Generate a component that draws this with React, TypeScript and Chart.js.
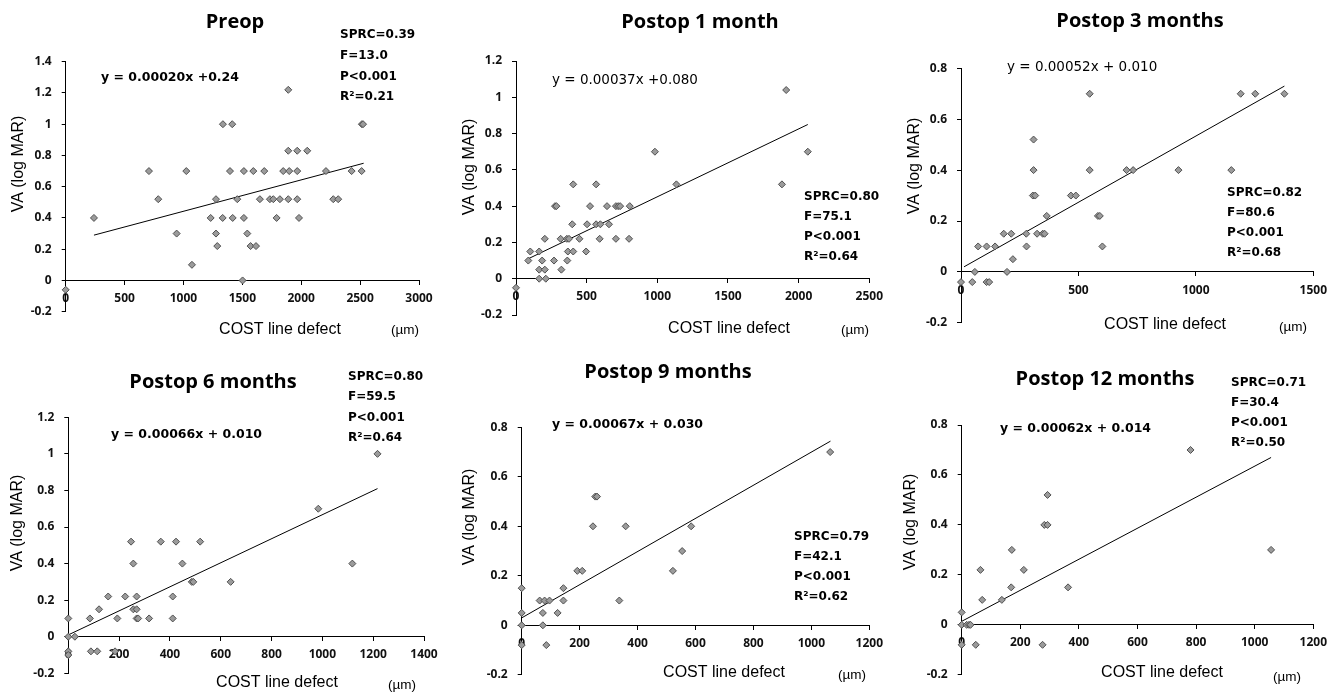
import React, { useEffect, useRef } from 'react';
import { Chart, registerables } from 'chart.js';
Chart.register(...registerables);

// ---------- data ----------
const preopX = [0, 240, 707, 786, 942, 1024, 1072, 1231, 1276, 1276, 1287, 1333, 1335, 1414, 1395, 1418, 1457, 1502, 1513, 1513, 1542, 1570, 1593, 1616, 1649, 1686, 1734, 1763, 1791, 1819, 1847, 1890, 1890, 1890, 1898, 1966, 1966, 1966, 1981, 2051, 2210, 2272, 2314, 2428, 2513, 2515, 2525];
const preopY = [-0.06, 0.4, 0.7, 0.52, 0.3, 0.7, 0.1, 0.4, 0.52, 0.3, 0.22, 0.4, 1.0, 1.0, 0.7, 0.4, 0.52, 0.0, 0.7, 0.4, 0.3, 0.22, 0.7, 0.22, 0.52, 0.7, 0.52, 0.52, 0.4, 0.52, 0.7, 1.22, 0.83, 0.52, 0.7, 0.83, 0.7, 0.52, 0.4, 0.83, 0.7, 0.52, 0.52, 0.7, 0.7, 1.0, 1.0];
const preopTrendX = [240, 2530];
const preopTrendY = [0.29, 0.75];

const m1X = [0, 87, 101, 164, 164, 185, 164, 204, 211, 204, 269, 276, 286, 321, 316, 363, 367, 360, 375, 405, 398, 405, 449, 496, 503, 524, 567, 567, 597, 592, 644, 658, 707, 707, 723, 737, 805, 800, 983, 1135, 1912, 1882, 2065];
const m1Y = [-0.05, 0.1, 0.15, 0.15, 0.05, 0.1, 0.0, 0.05, 0.0, 0.22, 0.1, 0.4, 0.4, 0.05, 0.22, 0.1, 0.15, 0.22, 0.22, 0.15, 0.3, 0.52, 0.22, 0.15, 0.3, 0.4, 0.52, 0.3, 0.3, 0.22, 0.4, 0.3, 0.22, 0.4, 0.4, 0.4, 0.4, 0.22, 0.7, 0.52, 1.04, 0.52, 0.7];
const m1TrendX = [87, 2065];
const m1TrendY = [0.11, 0.85];

const m3X = [0, 48, 109, 120, 59, 73, 109, 145, 182, 214, 196, 221, 278, 279, 309, 309, 306, 316, 324, 348, 356, 365, 468, 489, 548, 548, 583, 591, 602, 705, 733, 926, 1151, 1191, 1253, 1377];
const m3Y = [-0.04, -0.04, -0.04, -0.04, 0.0, 0.1, 0.1, 0.1, 0.15, 0.15, 0.0, 0.05, 0.15, 0.1, 0.52, 0.4, 0.3, 0.3, 0.15, 0.15, 0.15, 0.22, 0.3, 0.3, 0.7, 0.4, 0.22, 0.22, 0.1, 0.4, 0.4, 0.4, 0.4, 0.7, 0.7, 0.7];
const m3TrendX = [13, 1377];
const m3TrendY = [0.02, 0.73];

const m6X = [0, 0, 0, 0, 26, 85, 89, 114, 121, 157, 184, 193, 224, 247, 256, 269, 256, 269, 269, 275, 318, 364, 411, 411, 424, 449, 486, 492, 519, 639, 984, 1118, 1217];
const m6Y = [0.1, 0.0, -0.08, -0.1, 0.0, 0.1, -0.08, -0.08, 0.15, 0.22, -0.08, 0.1, 0.22, 0.52, 0.4, 0.22, 0.15, 0.15, 0.1, 0.1, 0.1, 0.52, 0.22, 0.1, 0.52, 0.4, 0.3, 0.3, 0.52, 0.3, 0.7, 0.4, 1.0];
const m6TrendX = [0, 1217];
const m6TrendY = [0.01, 0.81];

const m9X = [0, 0, 0, 0, 62, 79, 96, 73, 73, 85, 124, 144, 144, 192, 209, 246, 254, 260, 337, 359, 522, 554, 585, 1065];
const m9Y = [0.15, 0.05, 0.0, -0.08, 0.1, 0.1, 0.1, 0.05, 0.0, -0.08, 0.05, 0.15, 0.1, 0.22, 0.22, 0.4, 0.52, 0.52, 0.1, 0.4, 0.22, 0.3, 0.4, 0.7];
const m9TrendX = [0, 1066];
const m9TrendY = [0.03, 0.744];

const m12X = [0, 0, 17, 25, 30, 0, 48, 64, 70, 137, 169, 171, 212, 276, 282, 293, 293, 363, 781, 1056];
const m12Y = [0.05, 0.0, 0.0, 0.0, 0.0, -0.08, -0.08, 0.22, 0.1, 0.1, 0.15, 0.3, 0.22, -0.08, 0.4, 0.4, 0.52, 0.15, 0.7, 0.3];
const m12TrendX = [0, 1056];
const m12TrendY = [0.014, 0.67];

const xTicks3000 = [0, 500, 1000, 1500, 2000, 2500, 3000];
const xTicks2500 = [0, 500, 1000, 1500, 2000, 2500];
const xTicks1500 = [0, 500, 1000, 1500];
const xTicks1400 = [0, 200, 400, 600, 800, 1000, 1200, 1400];
const xTicks1200 = [0, 200, 400, 600, 800, 1000, 1200];
const yTicks14 = [-0.2, 0, 0.2, 0.4, 0.6, 0.8, 1, 1.2, 1.4];
const yTicks12 = [-0.2, 0, 0.2, 0.4, 0.6, 0.8, 1, 1.2];
const yTicks08 = [-0.2, 0, 0.2, 0.4, 0.6, 0.8];

const titles = ['Preop', 'Postop 1 month', 'Postop 3 months', 'Postop 6 months', 'Postop 9 months', 'Postop 12 months'];
const equations = ['y = 0.00020x +0.24', 'y = 0.00037x +0.080', 'y = 0.00052x + 0.010', 'y = 0.00066x + 0.010', 'y = 0.00067x + 0.030', 'y = 0.00062x + 0.014'];
const sprc = ['SPRC=0.39', 'SPRC=0.80', 'SPRC=0.82', 'SPRC=0.80', 'SPRC=0.79', 'SPRC=0.71'];
const fStat = ['F=13.0', 'F=75.1', 'F=80.6', 'F=59.5', 'F=42.1', 'F=30.4'];
const pStat = ['P<0.001', 'P<0.001', 'P<0.001', 'P<0.001', 'P<0.001', 'P<0.001'];
const r2 = ['R\u00b2=0.21', 'R\u00b2=0.64', 'R\u00b2=0.68', 'R\u00b2=0.64', 'R\u00b2=0.62', 'R\u00b2=0.50'];

// ---------- layout (page coordinates) ----------
type Panel = {
  xs: number[]; ys: number[]; tx: number[]; ty: number[];
  xTicks: number[]; yTicks: number[];
  box: [number, number, number, number];
  area: [number, number, number, number];
  titlePos: [number, number];
  eqPos: [number, number]; eqBold: boolean;
  statPos: [number, number, number];
  yLab: [number, number];
  xLab: [number, number];
  unit: [number, number];
};

const panels: Panel[] = [
  { xs: preopX, ys: preopY, tx: preopTrendX, ty: preopTrendY, xTicks: xTicks3000, yTicks: yTicks14,
    box: [0, 0, 445, 340], area: [65.7, 419, 61.7, 311.7], titlePos: [235, 22], eqPos: [101, 78], eqBold: true,
    statPos: [340, 35, 20.7], yLab: [19, 164], xLab: [280, 330], unit: [405, 330] },
  { xs: m1X, ys: m1Y, tx: m1TrendX, ty: m1TrendY, xTicks: xTicks2500, yTicks: yTicks12,
    box: [445, 0, 445, 340], area: [516, 871.7, 61, 315], titlePos: [700, 22], eqPos: [552, 80], eqBold: false,
    statPos: [804, 197, 20], yLab: [470, 167], xLab: [729, 329], unit: [855, 330] },
  { xs: m3X, ys: m3Y, tx: m3TrendX, ty: m3TrendY, xTicks: xTicks1500, yTicks: yTicks08,
    box: [890, 0, 444, 340], area: [961, 1315.7, 68.3, 328.3], titlePos: [1140, 21], eqPos: [1007, 67], eqBold: false,
    statPos: [1227, 193, 20], yLab: [915, 166], xLab: [1165, 325], unit: [1293, 327] },
  { xs: m6X, ys: m6Y, tx: m6TrendX, ty: m6TrendY, xTicks: xTicks1400, yTicks: yTicks12,
    box: [0, 340, 445, 352], area: [68.3, 424, 417.3, 673.3], titlePos: [213, 382], eqPos: [111, 435], eqBold: true,
    statPos: [348, 377, 20.3], yLab: [18, 523], xLab: [277, 683], unit: [402, 685] },
  { xs: m9X, ys: m9Y, tx: m9TrendX, ty: m9TrendY, xTicks: xTicks1200, yTicks: yTicks08,
    box: [445, 340, 445, 352], area: [521.7, 875.7, 427.3, 683.3], titlePos: [668, 372], eqPos: [552, 425], eqBold: true,
    statPos: [794, 537, 20], yLab: [470, 517], xLab: [724, 673], unit: [852, 675] },
  { xs: m12X, ys: m12Y, tx: m12TrendX, ty: m12TrendY, xTicks: xTicks1200, yTicks: yTicks08,
    box: [890, 340, 444, 352], area: [961.7, 1316.7, 425, 681.7], titlePos: [1105, 379], eqPos: [1000, 429], eqBold: true,
    statPos: [1231, 383, 20], yLab: [911, 522], xLab: [1162, 673], unit: [1287, 677] },
];

const Y_AXIS_W = 40;

function PanelChart({ p, idx }: { p: Panel; idx: number }) {
  const ref = useRef<HTMLCanvasElement>(null);
  useEffect(() => {
    const canvas = ref.current!;
    const [ox, oy, w, h] = p.box;
    const [al, ar, at, ab] = p.area;
    const textPlugin = {
      id: 'panelText' + idx,
      afterDraw(chart: any) {
        const ctx = chart.ctx as CanvasRenderingContext2D;
        ctx.save();
        ctx.fillStyle = '#000';
        ctx.textBaseline = 'middle';
        // title
        ctx.font = 'bold 20px "Open Sans"';
        ctx.textAlign = 'center';
        ctx.fillText(titles[idx], p.titlePos[0] - ox, p.titlePos[1] - oy);
        // equation
        ctx.textAlign = 'left';
        ctx.font = p.eqBold ? 'bold 12.5px "DejaVu Sans"' : '13.5px "DejaVu Sans"';
        ctx.fillText(equations[idx], p.eqPos[0] - ox, p.eqPos[1] - oy);
        // stats
        ctx.font = 'bold 12px "DejaVu Sans"';
        const lines = [sprc[idx], fStat[idx], pStat[idx], r2[idx]];
        lines.forEach((s, i) => ctx.fillText(s, p.statPos[0] - ox, p.statPos[1] + i * p.statPos[2] - oy));
        // x title and unit
        ctx.textAlign = 'center';
        ctx.font = '16px "Liberation Sans"';
        ctx.fillText('COST line defect', p.xLab[0] - ox, p.xLab[1] - oy);
        ctx.font = '13.5px "Liberation Sans"';
        ctx.fillText('(\u00b5m)', p.unit[0] - ox, p.unit[1] - oy);
        // y title
        ctx.translate(p.yLab[0] - ox, p.yLab[1] - oy);
        ctx.rotate(-Math.PI / 2);
        ctx.font = '16px "Liberation Sans"';
        ctx.fillText('VA (log MAR)', 0, 0);
        ctx.restore();
      },
    };
    const tickFont = { family: '"Open Sans"', weight: 'bold' as const, size: 12 };
    const fmt = (v: number) => String(Math.round(v * 10) / 10);
    const chart = new Chart(canvas, {
      type: 'scatter',
      data: {
        datasets: [
          {
            data: p.xs.map((x, i) => ({ x, y: p.ys[i] })),
            pointStyle: 'rectRot',
            pointRadius: 3.5,
            backgroundColor: '#9b9b9b',
            borderColor: '#505050',
            borderWidth: 1,
            clip: false,
            order: 1,
          } as any,
          {
            data: p.tx.map((x, i) => ({ x, y: p.ty[i] })),
            showLine: true,
            pointRadius: 0,
            borderColor: '#000',
            borderWidth: 1,
            fill: false,
            clip: false,
            order: 2,
          } as any,
        ],
      },
      options: {
        responsive: false,
        animation: false,
        events: [],
        layout: { padding: { left: al - ox - Y_AXIS_W, right: ox + w - ar, top: at - oy, bottom: oy + h - ab } },
        plugins: { legend: { display: false }, tooltip: { enabled: false }, title: { display: false } },
        scales: {
          x: {
            type: 'linear',
            position: { y: 0 } as any,
            min: p.xTicks[0],
            max: p.xTicks[p.xTicks.length - 1],
            afterBuildTicks: (s: any) => { s.ticks = p.xTicks.map((v) => ({ value: v })); },
            afterFit: (s: any) => { s.height = 0; },
            grid: { drawOnChartArea: false, color: '#000', tickLength: 4 },
            border: { color: '#000', width: 1 },
            ticks: { font: tickFont, color: '#111', padding: 7, maxRotation: 0, autoSkip: false, callback: (v: any) => fmt(Number(v)) },
          },
          y: {
            type: 'linear',
            position: 'left',
            min: p.yTicks[0],
            max: p.yTicks[p.yTicks.length - 1],
            afterBuildTicks: (s: any) => { s.ticks = p.yTicks.map((v) => ({ value: v })); },
            afterFit: (s: any) => { s.width = Y_AXIS_W; },
            grid: { drawOnChartArea: false, color: '#000', tickLength: 4 },
            border: { color: '#000', width: 1 },
            ticks: { font: tickFont, color: '#111', padding: 10, autoSkip: false, callback: (v: any) => fmt(Number(v)) },
          },
        },
      },
      plugins: [textPlugin],
    });
    return () => chart.destroy();
  }, [p, idx]);
  const [ox, oy, w, h] = p.box;
  return (
    <canvas
      ref={ref}
      width={w}
      height={h}
      style={{ position: 'absolute', left: ox, top: oy, width: w, height: h }}
    />
  );
}

export default function App() {
  useEffect(() => {
    document.body.style.margin = '0';
    document.body.style.background = '#fff';
  }, []);
  return (
    <div style={{ position: 'absolute', left: 0, top: 0, width: 1334, height: 692, background: '#fff', overflow: 'hidden' }}>
      {panels.map((p, i) => (
        <PanelChart key={i} p={p} idx={i} />
      ))}
    </div>
  );
}
